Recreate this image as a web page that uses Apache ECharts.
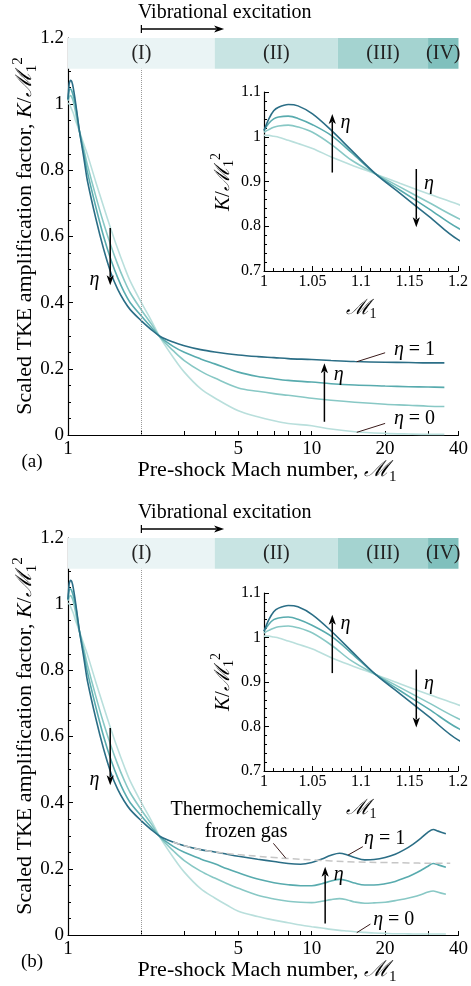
<!DOCTYPE html>
<html>
<head>
<meta charset="utf-8" />
<title>Scaled TKE amplification factor</title>
<script src="https://cdn.jsdelivr.net/npm/echarts@6/dist/echarts.min.js"></script>
<style>
  html, body { margin: 0; padding: 0; background: #fff; }
  #main { width: 471px; height: 986px; }
</style>
</head>
<body>
<div id="main"></div>
<script>
// pre-shock Mach number grid, panel (a)
var machA = [1, 1.005, 1.01, 1.015, 1.025, 1.035, 1.05, 1.07, 1.09, 1.115, 1.14, 1.17, 1.2, 1.3, 1.4, 1.5, 1.6, 1.7, 1.8, 2,
  2.2, 2.4, 2.7, 3, 3.5, 4, 5, 6, 7, 8, 10, 12, 15, 20, 25, 30, 35];
// K / M1^2, panel (a), eta = 0, 1/3, 2/3, 1
var kA0 = [1.003, 1.003, 1.001, 0.999, 0.992, 0.985, 0.974, 0.954, 0.937, 0.917, 0.896, 0.872, 0.849, 0.765, 0.690, 0.622, 0.562, 0.510, 0.465, 0.400,
  0.345, 0.292, 0.235, 0.190, 0.140, 0.112, 0.073, 0.055, 0.043, 0.035, 0.028, 0.018, 0.010, 0.005, 0.003, 0.002, 0.002];
var kA1 = [1.010, 1.016, 1.021, 1.024, 1.026, 1.022, 1.010, 0.982, 0.948, 0.917, 0.888, 0.853, 0.818, 0.722, 0.640, 0.572, 0.515, 0.468, 0.430, 0.378,
  0.335, 0.293, 0.255, 0.225, 0.193, 0.172, 0.142, 0.132, 0.125, 0.120, 0.111, 0.105, 0.099, 0.093, 0.090, 0.087, 0.086];
var kA2 = [1.014, 1.030, 1.040, 1.044, 1.046, 1.041, 1.027, 1.002, 0.965, 0.917, 0.881, 0.839, 0.796, 0.690, 0.600, 0.530, 0.475, 0.432, 0.400, 0.360,
  0.325, 0.295, 0.268, 0.250, 0.230, 0.215, 0.190, 0.177, 0.170, 0.165, 0.160, 0.155, 0.151, 0.148, 0.146, 0.145, 0.144];
var kA3 = [1.014, 1.040, 1.058, 1.066, 1.072, 1.069, 1.051, 1.013, 0.970, 0.917, 0.874, 0.822, 0.770, 0.655, 0.562, 0.490, 0.440, 0.405, 0.379, 0.345,
  0.318, 0.297, 0.281, 0.270, 0.258, 0.251, 0.242, 0.237, 0.234, 0.231, 0.228, 0.225, 0.222, 0.220, 0.219, 0.218, 0.218];

// panel (b): vibrational / chemical effects
var machB = [1, 1.005, 1.01, 1.015, 1.025, 1.035, 1.05, 1.07, 1.09, 1.115, 1.14, 1.17, 1.2, 1.3, 1.4, 1.5, 1.6, 1.7, 1.8, 2,
  2.2, 2.4, 2.7, 3, 3.5, 4, 4.5, 5, 6, 7, 8, 9, 10, 11, 12, 13, 14, 15, 16.5, 18, 20, 22, 24, 26, 28, 30, 31.5, 33, 35.5];
var kB0 = [1.003, 1.003, 1.001, 0.999, 0.992, 0.985, 0.974, 0.954, 0.937, 0.917, 0.896, 0.872, 0.849, 0.765, 0.690, 0.622, 0.562, 0.510, 0.465, 0.400,
  0.345, 0.292, 0.235, 0.190, 0.140, 0.112, 0.090, 0.072, 0.056, 0.045, 0.037, 0.030, 0.025, 0.021, 0.017, 0.014, 0.012, 0.010, 0.008, 0.006,
  0.005, 0.004, 0.004, 0.003, 0.003, 0.003, 0.003, 0.003, 0.003];
var kB1 = [1.010, 1.016, 1.021, 1.024, 1.026, 1.022, 1.010, 0.982, 0.948, 0.917, 0.888, 0.853, 0.818, 0.722, 0.640, 0.572, 0.515, 0.468, 0.430, 0.378,
  0.335, 0.293, 0.255, 0.225, 0.193, 0.172, 0.155, 0.141, 0.120, 0.109, 0.102, 0.099, 0.098, 0.102, 0.107, 0.110, 0.106, 0.100, 0.096, 0.097,
  0.099, 0.104, 0.109, 0.115, 0.122, 0.130, 0.133, 0.129, 0.123];
var kB2 = [1.014, 1.030, 1.040, 1.044, 1.046, 1.041, 1.027, 1.002, 0.965, 0.917, 0.881, 0.839, 0.796, 0.690, 0.600, 0.530, 0.475, 0.432, 0.400, 0.360,
  0.325, 0.295, 0.268, 0.250, 0.230, 0.215, 0.200, 0.188, 0.169, 0.158, 0.152, 0.149, 0.149, 0.155, 0.163, 0.168, 0.164, 0.157, 0.151, 0.151,
  0.155, 0.162, 0.172, 0.183, 0.195, 0.208, 0.216, 0.212, 0.205];
var kB3 = [1.014, 1.040, 1.058, 1.066, 1.072, 1.069, 1.051, 1.013, 0.970, 0.917, 0.874, 0.822, 0.770, 0.655, 0.562, 0.490, 0.440, 0.405, 0.379, 0.345,
  0.318, 0.297, 0.281, 0.270, 0.258, 0.251, 0.244, 0.238, 0.229, 0.222, 0.216, 0.214, 0.219, 0.230, 0.241, 0.247, 0.242, 0.234, 0.227, 0.228,
  0.234, 0.244, 0.258, 0.274, 0.292, 0.311, 0.319, 0.314, 0.306];
// thermochemically frozen gas (dashed, panel b)
var frozenMach = [2.7, 3, 3.5, 4, 5, 6, 7, 8, 10, 12, 15, 20, 25, 30, 37];
var frozenK = [0.281, 0.270, 0.258, 0.251, 0.243, 0.238, 0.234, 0.231, 0.227, 0.224, 0.221, 0.219, 0.218, 0.217, 0.217];

// regimes along the top
var bandEdges = [1, 4, 12.8, 30, 40];
var bandNames = ['(I)', '(II)', '(III)', '(IV)'];
var bandLow = 1.107, bandHigh = 1.2;
var vibStart = 2, vibEnd = 4.37;

// axis ticks
var machTicks = [1, 2, 3, 4, 5, 6, 7, 8, 9, 10, 20, 30, 40];
var machLabels = [1, 5, 10, 20, 40];

var cols = ['#b9dfdc', '#88c8c5', '#58abae', '#2b6e86'];
var bandColors = ['#eaf4f5', '#c8e4e3', '#a4d3d0', '#80c0bd'];
var SERIF = "'Liberation Serif', 'DejaVu Serif', serif";

var chart = echarts.init(document.getElementById('main'), null, { renderer: 'canvas' });

function logAxis(gi) {
  return {
    type: 'log', logBase: 10, gridIndex: gi, min: 1, max: 40,
    axisLine: { show: true, lineStyle: { color: '#000', width: 1.2 } },
    axisTick: { show: false }, axisLabel: { show: false },
    splitLine: { show: false }, minorTick: { show: false }
  };
}
// log10 value axis laid over the log axis, only for ticks and labels
function tickAxis(gi) {
  return {
    type: 'value', gridIndex: gi, min: 0, max: Math.log10(40), position: 'bottom',
    axisLine: { show: false },
    axisTick: { show: true, inside: true, length: 4, lineStyle: { color: '#000', width: 1 },
      customValues: machTicks.map(Math.log10) },
    axisLabel: { customValues: machLabels.map(Math.log10), margin: 5,
      fontFamily: SERIF, fontSize: 19, color: '#000',
      formatter: function (v) { return String(Math.round(Math.pow(10, v))); } },
    splitLine: { show: false }
  };
}
function insetX(gi) {
  return {
    type: 'value', gridIndex: gi, min: 1, max: 1.2, interval: 0.05,
    axisLine: { show: true, lineStyle: { color: '#000', width: 1.2 } },
    axisTick: { show: true, inside: true, length: 5, lineStyle: { color: '#000' } },
    minorTick: { show: true, splitNumber: 5, length: 3, lineStyle: { color: '#000' } },
    axisLabel: { margin: 3, fontFamily: SERIF, fontSize: 16, color: '#000' },
    splitLine: { show: false }
  };
}
function mainY(gi) {
  return {
    type: 'value', gridIndex: gi, min: 0, max: 1.2, interval: 0.2,
    axisLine: { show: true, lineStyle: { color: '#000', width: 1.2 } },
    axisTick: { show: true, inside: true, length: 5, lineStyle: { color: '#000' } },
    minorTick: { show: true, splitNumber: 4, length: 3, lineStyle: { color: '#000' } },
    axisLabel: { margin: 4, fontFamily: SERIF, fontSize: 19, color: '#000' },
    splitLine: { show: false }
  };
}
function insetY(gi) {
  return {
    type: 'value', gridIndex: gi, min: 0.7, max: 1.1, interval: 0.1,
    axisLine: { show: true, lineStyle: { color: '#000', width: 1.2 } },
    axisTick: { show: true, inside: true, length: 5, lineStyle: { color: '#000' } },
    minorTick: { show: true, splitNumber: 5, length: 3, lineStyle: { color: '#000' } },
    axisLabel: { margin: 3, fontFamily: SERIF, fontSize: 16, color: '#000' },
    splitLine: { show: false }
  };
}

function line(xi, yi, xs, ys, color, extra) {
  var s = {
    type: 'line', xAxisIndex: xi, yAxisIndex: yi, silent: true,
    data: xs.map(function (m, i) { return [m, ys[i]]; }),
    showSymbol: false, symbol: 'none', smooth: 0.35,
    lineStyle: { color: color, width: 1.6 }, itemStyle: { color: color }
  };
  for (var k in extra) s[k] = extra[k];
  return s;
}

var bandArea = {
  silent: true,
  label: { show: true, position: 'inside', fontFamily: SERIF, fontSize: 20, color: '#222' },
  data: bandNames.map(function (n, i) {
    return [{ name: n, xAxis: bandEdges[i], yAxis: bandLow, itemStyle: { color: bandColors[i] } },
            { xAxis: bandEdges[i + 1], yAxis: bandHigh }];
  })
};
var vibLine = {
  silent: true, symbol: ['none', 'none'], label: { show: false },
  lineStyle: { color: '#9a9a9a', type: 'dotted', width: 1 },
  data: [[{ coord: [vibStart, 0] }, { coord: [vibStart, bandLow] }]]
};

var setsA = [kA0, kA1, kA2, kA3], setsB = [kB0, kB1, kB2, kB3];
var series = [];
// 0-3 main (a), 4-7 inset (a)
setsA.forEach(function (d, i) {
  series.push(line(0, 0, machA, d, cols[i], i === 0 ? { markArea: bandArea, markLine: vibLine } : {}));
});
setsA.forEach(function (d, i) { series.push(line(2, 1, machA, d, cols[i])); });
// 8-11 main (b), 12 frozen, 13-16 inset (b)
setsB.forEach(function (d, i) {
  series.push(line(3, 2, machB, d, cols[i], i === 0 ? { markArea: bandArea, markLine: vibLine } : {}));
});
series.push(line(3, 2, frozenMach, frozenK, '#c6c6c6', { lineStyle: { color: '#c6c6c6', width: 1.5, type: [7, 4] } }));
setsB.forEach(function (d, i) { series.push(line(5, 3, machB, d, cols[i])); });

var option = {
  animation: false,
  backgroundColor: '#fff',
  grid: [
    { left: 68, top: 38, width: 398, height: 397 },
    { left: 264, top: 92, width: 197, height: 179 },
    { left: 68, top: 538, width: 398, height: 397 },
    { left: 264, top: 593, width: 197, height: 178 }
  ],
  xAxis: [logAxis(0), tickAxis(0), insetX(1), logAxis(2), tickAxis(2), insetX(3)],
  yAxis: [mainY(0), insetY(1), mainY(2), insetY(3)],
  series: series
};
chart.setOption(option);

// ---- annotations ----
function richSet(s) {
  var base = { fontFamily: SERIF, fontSize: s, fill: '#000', lineHeight: Math.round(s * 1.3) };
  function mk(o) { var r = {}; for (var k in base) r[k] = base[k]; for (var j in o) r[j] = o[j]; return r; }
  return {
    n: mk({}),
    i: mk({ fontStyle: 'italic' }),
    m: mk({ fontStyle: 'italic' }),
    sb: mk({ fontSize: Math.round(s * 0.68), lineHeight: Math.round(s * 0.72), verticalAlign: 'bottom' }),
    sp: mk({ fontSize: Math.round(s * 0.68), lineHeight: Math.round(s * 0.72), verticalAlign: 'top' })
  };
}
var g = [];
function P(si, pt) { return chart.convertToPixel({ seriesIndex: si }, pt); }
function text(x, y, str, size, rot) {
  g.push({ type: 'text', x: x, y: y, rotation: rot || 0, silent: true, z: 100,
    style: { text: str, rich: richSet(size), fontFamily: SERIF, fontSize: size, fill: '#000',
      align: 'center', verticalAlign: 'middle' } });
}
function seg(a, b, color, w) {
  g.push({ type: 'line', silent: true, z: 100, shape: { x1: a[0], y1: a[1], x2: b[0], y2: b[1] },
    style: { stroke: color, lineWidth: w } });
}
function arrow(a, b) {
  var dx = b[0] - a[0], dy = b[1] - a[1], L = Math.sqrt(dx * dx + dy * dy);
  var ux = dx / L, uy = dy / L, hl = 10, hw = 3.6;
  var bx = b[0] - ux * hl, by = b[1] - uy * hl;
  seg(a, [bx + ux * 2, by + uy * 2], '#000', 1.5);
  g.push({ type: 'polygon', silent: true, z: 100,
    shape: { points: [[b[0], b[1]], [bx - uy * hw, by + ux * hw], [bx + ux * 2.5, by + uy * 2.5], [bx + uy * hw, by - ux * hw]] },
    style: { fill: '#000' } });
}
var ETA = '{i|η}';
var KM = '{i|K}{n|/}{m|ℳ}{sb|1}{sp|2}';

[0, 1].forEach(function (p) {
  var sm = p === 0 ? 0 : 8, si = p === 0 ? 4 : 13, dy = p * 500;
  // vibrational excitation arrow above the regime bands
  var v0 = P(sm, [vibStart, bandHigh]), v1 = P(sm, [vibEnd, bandHigh]);
  seg([v0[0], v0[1] - 13], [v0[0], v0[1] - 5], '#000', 1.2);
  arrow([v0[0], v0[1] - 9], [v1[0], v0[1] - 9]);
  text((v0[0] + v1[0]) / 2 + 42, v0[1] - 25, '{n|Vibrational excitation}', 20);

  // eta arrows, main plot
  arrow(P(sm, [1.49, 0.626]), P(sm, [1.49, 0.453]));
  var e = P(sm, [1.284, 0.47]); text(e[0], e[1], ETA, 20);
  if (p === 0) {
    arrow(P(sm, [11.27, 0.040]), P(sm, [11.27, 0.2166]));
    e = P(sm, [12.9, 0.181]); text(e[0], e[1], ETA, 20);
    seg(P(sm, [15.3, 0.2215]), P(sm, [20, 0.2486]), '#3a1a1a', 1);
    e = P(sm, [26.4, 0.257]); text(e[0], e[1], ETA + '{n| = 1}', 20);
    seg(P(sm, [15.3, 0.008]), P(sm, [20, 0.035]), '#3a1a1a', 1);
    e = P(sm, [26.4, 0.048]); text(e[0], e[1], ETA + '{n| = 0}', 20);
  } else {
    arrow(P(sm, [11.35, 0.035]), P(sm, [11.35, 0.206]));
    e = P(sm, [12.9, 0.181]); text(e[0], e[1], ETA, 20);
    seg(P(sm, [14.1, 0.2417]), P(sm, [16.2, 0.267]), '#3a1a1a', 1);
    e = P(sm, [19.9, 0.292]); text(e[0], e[1], ETA + '{n| = 1}', 20);
    seg(P(sm, [15.3, 0.007]), P(sm, [17.4, 0.033]), '#3a1a1a', 1);
    e = P(sm, [21.7, 0.047]); text(e[0], e[1], ETA + '{n| = 0}', 20);
    e = P(sm, [5.38, 0.378]); text(e[0], e[1], '{n|Thermochemically}', 20);
    e = P(sm, [5.38, 0.312]); text(e[0], e[1], '{n|frozen gas}', 20);
    seg(P(sm, [6.96, 0.277]), P(sm, [7.83, 0.232]), '#3a1a1a', 1);
  }

  // inset arrows
  arrow(P(si, [1.0704, 0.92]), P(si, [1.0704, 1.051]));
  e = P(si, [1.084, 1.031]); text(e[0], e[1], ETA, 20);
  arrow(P(si, [1.157, 0.928]), P(si, [1.157, 0.798]));
  e = P(si, [1.170, 0.896]); text(e[0], e[1], ETA, 20);

  // axis names and panel tags
  text(25, 236 + dy, '{n|Scaled TKE amplification factor, }' + KM, 22, Math.PI / 2);
  text(267, 470 + dy, '{n|Pre-shock Mach number, }{m|ℳ}{sb|1}', 22);
  text(223, 182 + dy, KM, 21, Math.PI / 2);
  text(361, 308 + dy, '{m|ℳ}{sb|1}', 21);
  text(32, 462 + dy, '{n|(' + (p === 0 ? 'a' : 'b') + ')}', 19);
});

chart.setOption({ graphic: { elements: g } });
</script>
</body>
</html>
